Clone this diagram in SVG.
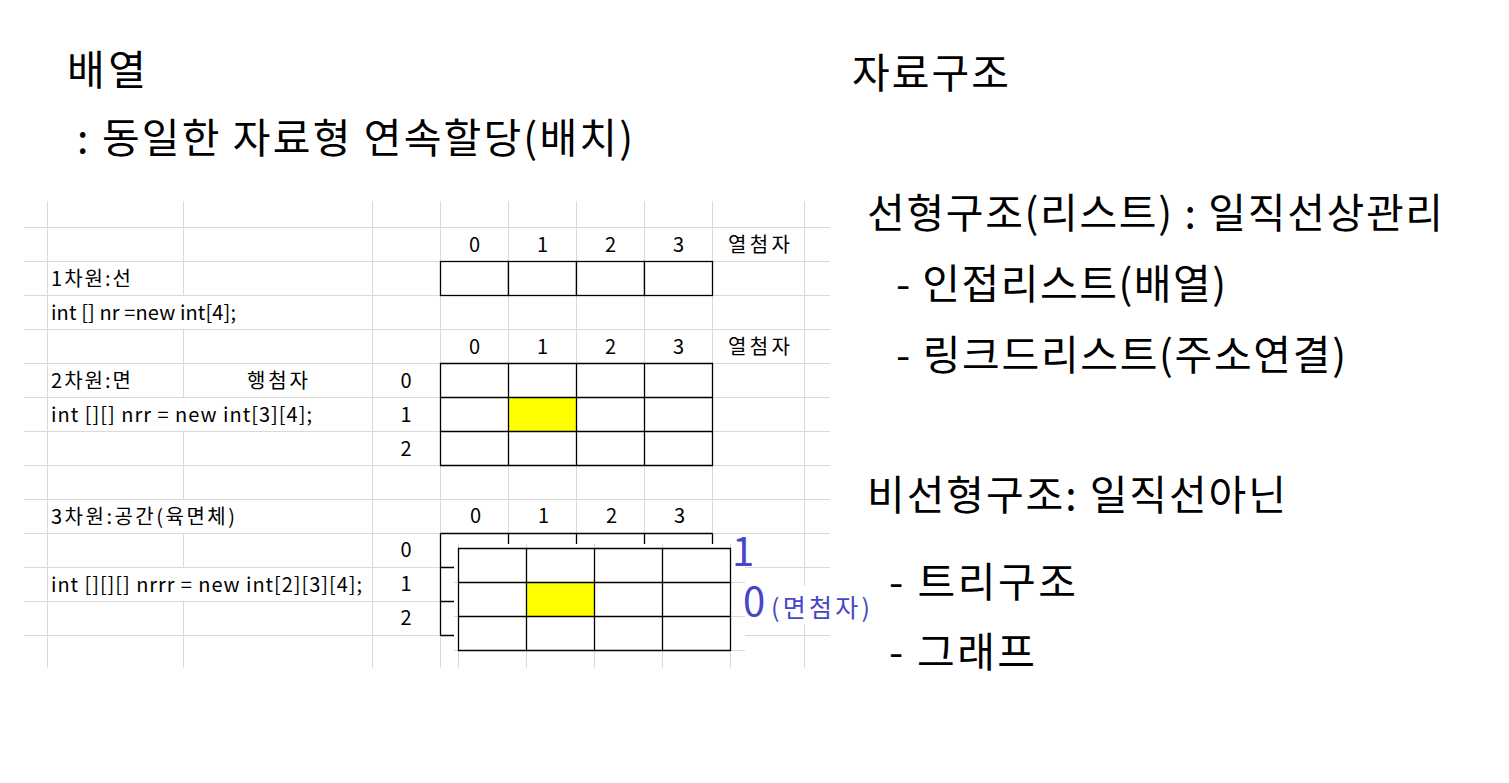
<svg xmlns="http://www.w3.org/2000/svg" width="1509" height="783" viewBox="0 0 1509 783">
<style>
.t{font-family:"Noto Sans CJK KR","Malgun Gothic",sans-serif;fill:#000}
.big{font-size:41px}
.sm{font-size:20px}
.c{text-anchor:middle}
.blue{fill:#4646c8}
.gl{stroke:#d9d9d9;stroke-width:1;fill:none}
.bl{stroke:#000;stroke-width:1.3;fill:none}
.cell{stroke:#000;stroke-width:1.3;fill:#fff}
.yel{fill:#ffff00}
</style>
<rect width="1509" height="783" fill="#fff"/>

<g id="titles">
<text class="t big" x="67" y="85" textLength="79" lengthAdjust="spacing">배열</text>
<text class="t big" x="77" y="153" textLength="556" lengthAdjust="spacing">: 동일한 자료형 연속할당(배치)</text>
<text class="t big" x="852" y="88" textLength="157" lengthAdjust="spacing">자료구조</text>
<text class="t big" x="867" y="228" textLength="576" lengthAdjust="spacing">선형구조(리스트) : 일직선상관리</text>
<text class="t big" x="896" y="299" textLength="330" lengthAdjust="spacing">- 인접리스트(배열)</text>
<text class="t big" x="896" y="370" textLength="450" lengthAdjust="spacing">- 링크드리스트(주소연결)</text>
<text class="t big" x="867" y="510" textLength="419" lengthAdjust="spacing">비선형구조: 일직선아닌</text>
<text class="t big" x="889" y="597" textLength="187" lengthAdjust="spacing">- 트리구조</text>
<text class="t big" x="889" y="667" textLength="146" lengthAdjust="spacing">- 그래프</text>
</g>

<g id="sheet-grid">
<path class="gl" d="M24 227.5H830M24 261.5H830M24 295.5H830M24 329.5H830M24 363.5H830M24 397.5H830M24 431.5H830M24 465.5H830M24 499.5H830M24 533.5H830M24 567.5H830M24 601.5H830M24 635.5H830"/>
<path class="gl" d="M47.5 201V668M372.5 201V668M440.5 201V668M508.5 201V668M576.5 201V668M644.5 201V668M712.5 201V668M804.5 201V668"/>
<path class="gl" d="M183.5 201V295.5M183.5 329.5V397.5M183.5 431.5V499.5M183.5 533.5V567.5M183.5 601.5V668"/>
</g>

<g id="labels">
<text class="t sm c" x="474.5" y="252">0</text>
<text class="t sm c" x="542.5" y="252">1</text>
<text class="t sm c" x="610.5" y="252">2</text>
<text class="t sm c" x="678.5" y="252">3</text>
<text class="t sm" x="728" y="252" textLength="62" lengthAdjust="spacing">열첨자</text>
<text class="t sm" x="51" y="286" textLength="80" lengthAdjust="spacing">1차원:선</text>
<text class="t sm" x="51" y="320" textLength="185" lengthAdjust="spacing">int [] nr =new int[4];</text>
<text class="t sm c" x="474.5" y="354">0</text>
<text class="t sm c" x="542.5" y="354">1</text>
<text class="t sm c" x="610.5" y="354">2</text>
<text class="t sm c" x="678.5" y="354">3</text>
<text class="t sm" x="728" y="354" textLength="62" lengthAdjust="spacing">열첨자</text>
<text class="t sm" x="51" y="388" textLength="80" lengthAdjust="spacing">2차원:면</text>
<text class="t sm" x="247" y="388" textLength="61" lengthAdjust="spacing">행첨자</text>
<text class="t sm c" x="406" y="388">0</text>
<text class="t sm" x="51" y="422" textLength="261" lengthAdjust="spacing">int [][] nrr = new int[3][4];</text>
<text class="t sm c" x="406" y="422">1</text>
<text class="t sm c" x="406" y="456">2</text>
<text class="t sm" x="51" y="524" textLength="184" lengthAdjust="spacing">3차원:공간(육면체)</text>
<text class="t sm c" x="475.5" y="523">0</text>
<text class="t sm c" x="543.5" y="523">1</text>
<text class="t sm c" x="611.5" y="523">2</text>
<text class="t sm c" x="679.5" y="523">3</text>
<text class="t sm c" x="406" y="557">0</text>
<text class="t sm" x="51" y="592" textLength="311" lengthAdjust="spacing">int [][][] nrrr = new int[2][3][4];</text>
<text class="t sm c" x="406" y="591">1</text>
<text class="t sm c" x="406" y="625">2</text>
</g>

<g id="array-1d">
<rect class="cell" x="440.5" y="261.5" width="68" height="34"/>
<rect class="cell" x="508.5" y="261.5" width="68" height="34"/>
<rect class="cell" x="576.5" y="261.5" width="68" height="34"/>
<rect class="cell" x="644.5" y="261.5" width="68" height="34"/>
</g>

<g id="array-2d">
<rect x="440.5" y="363.5" width="272" height="102" fill="#fff"/>
<rect class="yel" x="508.5" y="397.5" width="68" height="34"/>
<path class="bl" d="M440.5 363.5H712.5V465.5H440.5ZM440.5 397.5H712.5M440.5 431.5H712.5M508.5 363.5V465.5M576.5 363.5V465.5M644.5 363.5V465.5"/>
</g>

<g id="array-3d">
<path class="bl" d="M440.5 533.5H712.5M508.5 533.5V544M576.5 533.5V544M644.5 533.5V544M712.5 533.5V544M440.5 533.5V635.5M440.5 567.5H454M440.5 601.5H454M440.5 635.5H454"/>
<rect x="454" y="544" width="291" height="124" fill="#fff"/>
<path class="gl" d="M458.5 544V668M526.5 544V668M594.5 544V668M662.5 544V668M730.5 544V668M454 582.5H745M454 616.5H745M454 650.5H745"/>
<rect x="458.5" y="548.5" width="272" height="102" fill="#fff"/>
<rect class="yel" x="526.5" y="582.5" width="68" height="34"/>
<path class="bl" d="M458.5 548.5H730.5V650.5H458.5ZM458.5 582.5H730.5M458.5 616.5H730.5M526.5 548.5V650.5M594.5 548.5V650.5M662.5 548.5V650.5"/>
<rect x="745" y="586" width="127" height="38" fill="#fff"/>
<text class="t blue" x="732" y="566" font-size="40">1</text>
<text class="t blue" x="743" y="616" font-size="40">0</text>
<text class="t blue" x="771" y="617" font-size="25" textLength="99" lengthAdjust="spacing">(면첨자)</text>
</g>
</svg>
